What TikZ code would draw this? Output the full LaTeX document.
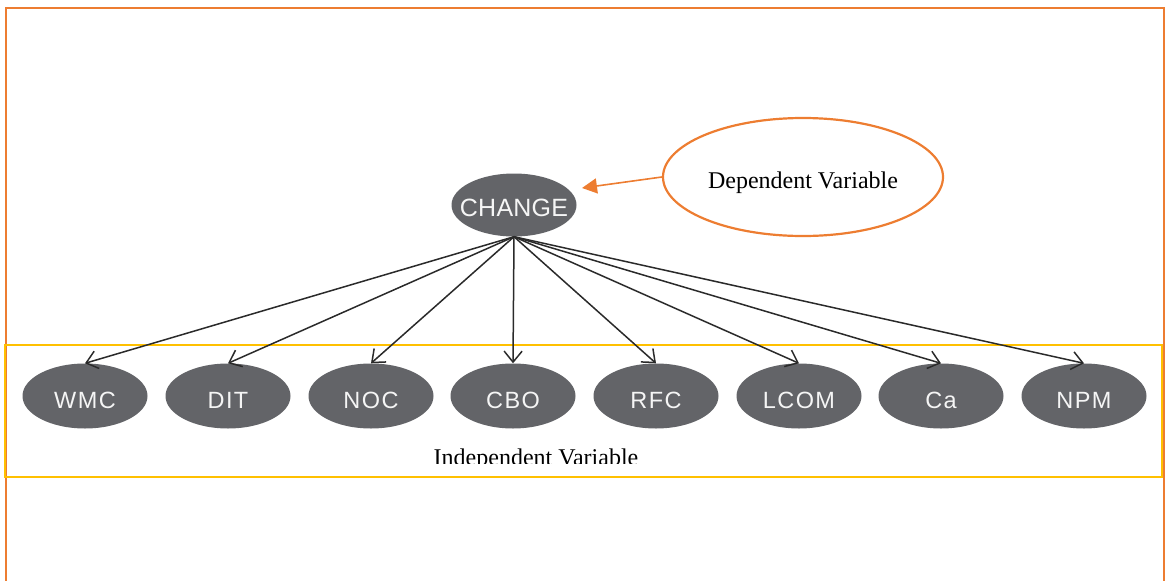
\documentclass[tikz,border=0pt]{standalone}
\usepackage{fontspec}
\setmainfont{Liberation Serif}
\newfontfamily\arialfont[LetterSpace=6]{Liberation Sans}
\newfontfamily\arialplain[LetterSpace=1]{Liberation Sans}
\usetikzlibrary{arrows.meta,shapes.geometric}
\definecolor{frameorange}{HTML}{ED7D31}
\definecolor{boxyellow}{HTML}{FFC000}
\definecolor{nodegray}{HTML}{636468}
\definecolor{linegray}{HTML}{2A2A2A}
\newcommand{\mtxt}[2][-12pt]{\raisebox{#1}[0pt][0pt]{\makebox[60pt]{#2}}}
\tikzset{
  metric/.style={ellipse, fill=nodegray, draw=none, inner sep=0pt,
    minimum width=125pt, minimum height=65pt, text=white!92!gray,
    font=\arialfont\fontsize{23.5}{26}\selectfont},
  link/.style={draw=linegray, line width=1.5pt, -{Straight Barb[length=11pt,width=18pt,line width=1.5pt]}},
  callout/.style={draw=frameorange, line width=1.6pt, -{Triangle[length=15pt,width=15pt]}}
}
\begin{document}
\begin{tikzpicture}[x=1pt,y=-1pt]
\useasboundingbox (0,0) rectangle (1165,581);
% outer orange frame (open at the bottom)
\draw[frameorange, line width=2.2pt] (6,581) -- (6,8) -- (1164,8) -- (1164,581);
% yellow box
\draw[boxyellow, line width=2.4pt] (5,345) rectangle (1162,477);
% dependent node
\node[metric, minimum width=125pt, minimum height=63pt,
      font=\arialplain\fontsize{25}{28}\selectfont] (change) at (514,205) {\mtxt[-11pt]{CHANGE}};
% independent nodes
\node[metric] (wmc)  at (85,396)   {\mtxt{WMC}};
\node[metric] (dit)  at (228,396)  {\mtxt{DIT}};
\node[metric] (noc)  at (371,396)  {\mtxt{NOC}};
\node[metric] (cbo)  at (513,396)  {\mtxt{CBO}};
\node[metric] (rfc)  at (656,396)  {\mtxt{RFC}};
\node[metric] (lcom) at (799,396)  {\mtxt{LCOM}};
\node[metric] (ca)   at (941,396)  {\mtxt{Ca}};
\node[metric] (npm)  at (1084,396) {\mtxt{NPM}};
\foreach \t in {wmc,dit,noc,cbo,rfc,lcom,ca,npm}
  \draw[link] (change.south) -- (\t.north);
% dependent variable callout
\node[ellipse, draw=frameorange, line width=2.2pt, minimum width=280pt,
      minimum height=118pt, inner sep=0pt,
      font=\fontsize{24}{28}\selectfont] (dep) at (803,177)
      {\raisebox{-11pt}[0pt][0pt]{\makebox[150pt]{Dependent Variable}}};
\coordinate (tip) at (582,188);
\draw[callout] (dep.west) -- (tip);
% independent variable label (clipped at its baseline)
\begin{scope}
\clip (0,0) rectangle (1165,463);
\node[anchor=base, inner sep=0pt, font=\fontsize{24}{28}\selectfont] (indep) at (536,465) {Independent Variable};
\end{scope}
\end{tikzpicture}
\end{document}
